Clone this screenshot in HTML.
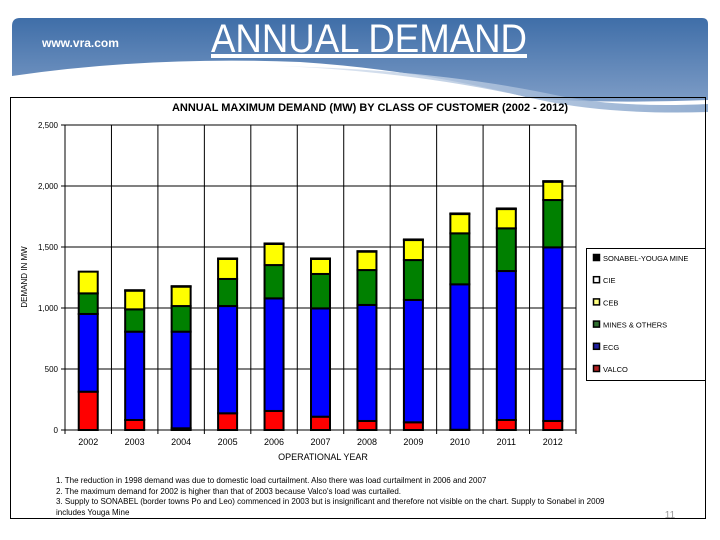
<!DOCTYPE html>
<html><head><meta charset="utf-8"><style>
body{margin:0;width:720px;height:540px;background:#fff;overflow:hidden;font-family:"Liberation Sans",sans-serif;}
svg{position:absolute;left:0;top:0}
</style></head><body>
<svg width="720" height="540">
<defs>
<linearGradient id="bg" x1="0" y1="0" x2="0" y2="1"><stop offset="0" stop-color="#3f6ea8"/><stop offset="1" stop-color="#7d9cc6"/></linearGradient>
<linearGradient id="wv" x1="0" y1="0" x2="1" y2="0"><stop offset="0" stop-color="#dfe7f2"/><stop offset="1" stop-color="#7f9fc8"/></linearGradient>
</defs>
<g>
<path d="M20,18 H702 Q708,18 708,24 V100 Q600,104 530,98 Q420,70 300,62 Q150,56 12,76 V26 Q12,18 20,18 Z" fill="url(#bg)"/>
<path d="M280,66 Q420,72 540,100 Q610,115 708,112 V104 Q620,108 560,96 Q440,70 280,66 Z" fill="url(#wv)" opacity="0.85"/>
<text x="42" y="47" font-size="12" font-weight="bold" fill="#fff">www.vra.com</text>
<text x="369" y="52" font-size="40" fill="#fff" text-anchor="middle" textLength="316" lengthAdjust="spacingAndGlyphs" text-decoration="underline">ANNUAL DEMAND</text>
</g>
<rect x="10.5" y="97.5" width="695" height="421" fill="none" stroke="#000"/>
<text x="370" y="111" font-size="11" font-weight="bold" text-anchor="middle">ANNUAL MAXIMUM DEMAND (MW) BY CLASS OF CUSTOMER (2002 - 2012)</text>
<g id="plot"></g>
<text transform="translate(27,277) rotate(-90)" font-size="8" text-anchor="middle">DEMAND IN MW</text>
<text x="323" y="460" font-size="9" text-anchor="middle">OPERATIONAL YEAR</text>
<g id="legend"><rect x="586.5" y="248.5" width="119" height="132" fill="#fff" stroke="#000"/></g>
<g font-size="8">
<text x="56" y="483">1.  The reduction in 1998 demand was due to domestic load curtailment. Also there was load curtailment in 2006 and 2007</text>
<text x="56" y="494">2. The maximum demand for 2002 is higher than that of 2003 because Valco's load was curtailed.</text>
<text x="56" y="504">3. Supply to SONABEL (border towns Po and Leo) commenced in 2003 but is insignificant and therefore not visible on the chart. Supply to Sonabel in 2009</text>
<text x="56" y="515">includes Youga Mine</text>
</g>
<text x="670" y="518" font-size="10" fill="#999" text-anchor="middle">11</text>
</svg>
<script>
const years=["2002","2003","2004","2005","2006","2007","2008","2009","2010","2011","2012"];
const valco=[314,82,14,137,156,109,74,63,2,82,74];
const ecg=[637,724,792,879,923,888,951,1003,1192,1221,1423];
const mines=[169,183,210,222,273,282,286,327,418,350,388];
const ceb=[178,153,159,164,173,123,151,164,158,158,150];
const cie=[0,0,0,0,0,0,0,0,0,0,0];
const sonabel=[0,4,4,4,4,4,4,5,5,5,5];
const yTicks=[0,500,1000,1500,2000,2500];
const yTickLabels=["0","500","1,000","1,500","2,000","2,500"];
const seriesNames=["SONABEL-YOUGA MINE","CIE","CEB","MINES & OTHERS","ECG","VALCO"];
const NS="http://www.w3.org/2000/svg";
const L=65,R=576,T=125,B=430,MAX=2500;
const y=v=>B-(v/MAX)*(B-T);
const cw=(R-L)/years.length;
const x=i=>L+i*cw;
const g=document.getElementById('plot');
function mk(t,a,p){const e=document.createElementNS(NS,t);for(const k in a)e.setAttribute(k,a[k]);(p||g).appendChild(e);return e;}
yTicks.forEach((v,i)=>{
 const l=mk('line',{x1:L-4,x2:R,y1:y(v),y2:y(v),stroke:'#000','stroke-width':1});
 
 
 const t=mk('text',{x:L-7,y:y(v)+3,'font-size':8,'text-anchor':'end'});t.textContent=yTickLabels[i];
 
 
});
for(let i=0;i<=years.length;i++){
 const l=mk('line',{x1:x(i),x2:x(i),y1:T,y2:B+4,stroke:'#000','stroke-width':1});
 
 
}
const series=[[valco,'#ff0000','valco'],[ecg,'#0000ff','ecg'],[mines,'#008000','mines'],[ceb,'#ffff00','ceb'],[cie,'#ffffff','cie'],[sonabel,'#000000','sonabel']];
years.forEach((yr,i)=>{
 let acc=0;const bx=x(i)+cw/2-9.5;
 series.forEach(([arr,c,n])=>{
  const v=arr[i];if(v<=0)return;
  const r=mk('rect',{x:bx,y:y(acc+v),width:19,height:y(acc)-y(acc+v),fill:c,stroke:'#000','stroke-width':2});
  
  
  acc+=v;
 });
 const t=mk('text',{x:x(i)+cw/2,y:445,'font-size':9,'text-anchor':'middle'});t.textContent=yr;
 
 
});
const lg=document.getElementById('legend');
const lc=['#000','#fff','#ffff80','#2f6f2f','#1f1fa0','#b02020'];
seriesNames.forEach((n,i)=>{
 const yy=259+i*22.2;
 const s=mk('rect',{x:593.5,y:yy-4.5,width:6,height:6,fill:lc[i],stroke:'#000','stroke-width':1.5},lg);
 
 
 const t=mk('text',{x:603,y:yy+2,'font-size':7.5},lg);t.textContent=n;
 
 
});
</script>
</body></html>
